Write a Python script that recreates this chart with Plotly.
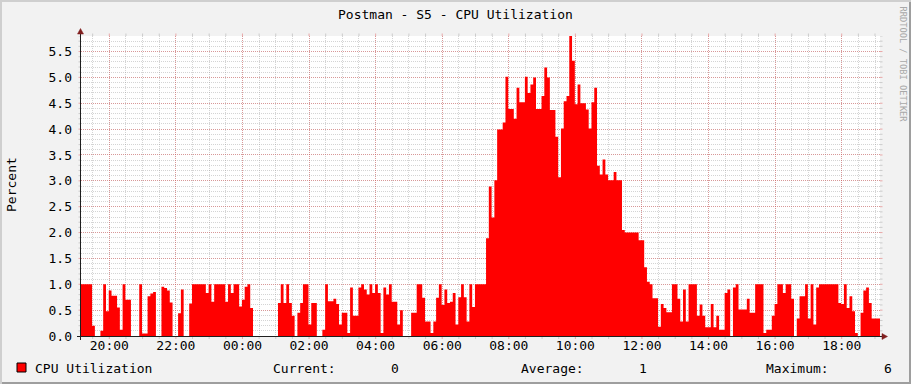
import pandas as pd
import plotly.graph_objects as go

# ---------------- data ----------------
TITLE = "Postman - S5 - CPU Utilization"
SERIES = "CPU Utilization"
Y_LABEL = "Percent"
WATERMARK = "RRDTOOL / TOBI OETIKER"
START = "2024-01-01 19:09"
STEP = "5min"

cpu = [
    1.0, 1.0, 1.0, 1.0, 0.2, 0, 0, 0.1, 1.0, 0.48,
    0.88, 0.78, 0.78, 0.55, 0.12, 1.0, 0.7, 0.7, 0, 0,
    0, 1.0, 0.05, 0.05, 0.77, 0.82, 0.85, 0, 0, 0.95,
    0.93, 0.88, 0.65, 0, 0, 0.44, 0.9, 0, 0, 0.63,
    1.0, 1.0, 1.0, 1.0, 1.0, 0.83, 1.0, 0.66, 1.0, 1.0,
    1.0, 1.0, 0.66, 1.0, 0.83, 1.0, 1.0, 0.57, 0.7, 0.95,
    1.0, 0.54, 0, 0, 0, 0, 0, 0, 0, 0,
    0, 0.64, 1.0, 0.64, 1.0, 0.64, 0.39, 0, 0.45, 0.64,
    1.0, 1.0, 0.22, 0.64, 0.64, 0, 0, 0.12, 1.0, 0.67,
    0.67, 0.72, 0.62, 0.22, 0.45, 0.45, 0.06, 0.94, 0.39, 0.39,
    0.94, 1.0, 0.9, 0.8, 1.0, 0.83, 1.0, 0.83, 0.06, 0.94,
    0.8, 1.0, 0.66, 0.66, 0.22, 0.5, 0, 0, 0, 0.45,
    0.45, 1.0, 1.0, 0.74, 0.28, 0.28, 0.06, 0.28, 0.74, 1.0,
    0.6, 0.9, 0.64, 0.66, 0.83, 0.22, 0.75, 1.0, 0.75, 0.28,
    1.0, 0.56, 1.0, 1.0, 1.0, 1.0, 1.89, 2.89, 2.29, 3.01,
    3.99, 3.99, 4.13, 5.01, 4.39, 4.39, 4.2, 4.8, 4.52, 4.52,
    5.01, 4.7, 4.86, 5.0, 4.39, 4.39, 4.64, 5.19, 5.0, 4.37,
    4.37, 3.85, 3.07, 4.01, 4.54, 4.64, 5.8, 5.32, 4.48, 4.86,
    4.5, 4.5, 4.38, 4.01, 4.52, 4.8, 3.29, 3.12, 3.41, 3.12,
    3.01, 3.01, 3.17, 3.01, 3.01, 2.05, 2.0, 2.0, 2.0, 2.0,
    2.0, 1.85, 1.85, 1.33, 1.05, 1.0, 0.73, 0.73, 0.18, 0.62,
    0.54, 0.46, 0.46, 1.0, 1.0, 0.72, 0.28, 0.9, 0.28, 1.0,
    1.0, 1.0, 0.39, 0.61, 0.39, 0.17, 0.17, 0.62, 0.17, 0.39,
    0.12, 0.12, 0.83, 0.9, 0, 0.94, 1.0, 0.51, 0.51, 0.51,
    0.72, 0.45, 0.45, 1.0, 1.0, 1.0, 0.06, 0.12, 0.12, 0.39,
    0.62, 1.0, 1.0, 0.83, 1.0, 1.0, 0.72, 0, 0.34, 0.77,
    0.77, 1.0, 0.34, 1.0, 0.22, 0.94, 1.0, 1.0, 1.0, 1.0,
    1.0, 1.0, 1.0, 0.64, 0.62, 1.0, 0.54, 0.77, 0.48, 0.06,
    0, 0.45, 0.88, 0.94, 0.64, 0.34, 0.34, 0.34,
]

x_tick_labels = ["20:00", "22:00", "00:00", "02:00", "04:00", "06:00",
                 "08:00", "10:00", "12:00", "14:00", "16:00", "18:00"]
FIRST_TICK = "2024-01-01 20:00"
y_tick_values = [0.0, 0.5, 1.0, 1.5, 2.0, 2.5, 3.0, 3.5, 4.0, 4.5, 5.0, 5.5]
Y_MAX = 5.8

stat_labels = ["Current:", "Average:", "Maximum:"]
stat_values = ["0", "1", "6"]

# ---------------- styling ----------------
FONT = "DejaVu Sans Mono"
BACK = "#F2F2F2"
SHADE_A = "#CFCFCF"
SHADE_B = "#9E9E9E"
GRID = "rgba(143,143,143,0.38)"
MGRID = "rgba(222,79,79,0.45)"
AXIS = "#1F1F1F"
ARROW = "#801F1F"
AREA = "#FF0000"

W_IMG, H_IMG = 911, 384
L, R, T, B = 81, 880, 36, 336
PW, PH = R - L, B - T


def px(x):
    return (x - L) / PW


def py(y):
    return (B - y) / PH


times = pd.date_range(START, periods=len(cpu) + 1, freq=STEP)
vals = cpu + [cpu[-1]]
t_end = times[-1]

tickvals = pd.date_range(FIRST_TICK, periods=len(x_tick_labels), freq="2h")

fig = go.Figure()
fig.add_trace(go.Scatter(
    x=times, y=vals, mode="lines",
    line=dict(shape="hv", width=0, color=AREA),
    fill="tozeroy", fillcolor=AREA,
    hoverinfo="skip", showlegend=False,
))

shapes = []
# frame shading
shapes.append(dict(type="rect", xref="paper", yref="paper", x0=px(0), x1=px(W_IMG), y0=py(0), y1=py(2),
                   fillcolor=SHADE_A, line=dict(width=0)))
shapes.append(dict(type="rect", xref="paper", yref="paper", x0=px(0), x1=px(2), y0=py(0), y1=py(H_IMG),
                   fillcolor=SHADE_A, line=dict(width=0)))
shapes.append(dict(type="rect", xref="paper", yref="paper", x0=px(2), x1=px(W_IMG), y0=py(H_IMG - 2), y1=py(H_IMG),
                   fillcolor=SHADE_B, line=dict(width=0)))
shapes.append(dict(type="rect", xref="paper", yref="paper", x0=px(W_IMG - 2), x1=px(W_IMG), y0=py(2), y1=py(H_IMG),
                   fillcolor=SHADE_B, line=dict(width=0)))

# small grid end marks (y)
n_minor_y = int(round(Y_MAX / 0.1))
for k in range(1, n_minor_y + 1):
    v = round(k * 0.1, 2)
    col = MGRID if abs(v / 0.5 - round(v / 0.5)) < 1e-6 else GRID
    shapes.append(dict(type="line", xref="paper", yref="y", x0=px(78.5), x1=px(81), y0=v, y1=v,
                       line=dict(color=col, width=1)))
    shapes.append(dict(type="line", xref="paper", yref="y", x0=px(880), x1=px(882.5), y0=v, y1=v,
                       line=dict(color=col, width=1)))
# small grid end marks (x)
minor_x = pd.date_range("2024-01-01 19:30", t_end, freq="30min")
for tm in minor_x:
    col = MGRID if (tm.hour % 2 == 0 and tm.minute == 0) else GRID
    shapes.append(dict(type="line", xref="x", yref="paper", x0=tm, x1=tm, y0=py(33.5), y1=py(36),
                       line=dict(color=col, width=1)))
    shapes.append(dict(type="line", xref="x", yref="paper", x0=tm, x1=tm, y0=py(337), y1=py(339),
                       line=dict(color=col, width=1)))

# axes lines
shapes.append(dict(type="line", xref="paper", yref="paper", x0=px(77), x1=px(884), y0=py(336.5), y1=py(336.5),
                   line=dict(color=AXIS, width=1)))
shapes.append(dict(type="line", xref="paper", yref="paper", x0=px(80.5), x1=px(80.5), y0=py(340), y1=py(32),
                   line=dict(color=AXIS, width=1)))
# arrows
shapes.append(dict(type="path", xref="paper", yref="paper",
                   path=f"M {px(882)} {py(333.5)} L {px(882)} {py(339.5)} L {px(887.5)} {py(336.5)} Z",
                   fillcolor=ARROW, line=dict(color=ARROW, width=0.5)))
shapes.append(dict(type="path", xref="paper", yref="paper",
                   path=f"M {px(77.5)} {py(34)} L {px(83.5)} {py(34)} L {px(80.5)} {py(28.5)} Z",
                   fillcolor=ARROW, line=dict(color=ARROW, width=0.5)))
# legend swatch
shapes.append(dict(type="rect", xref="paper", yref="paper", x0=px(17), x1=px(26), y0=py(372), y1=py(363),
                   fillcolor=AREA, line=dict(color="#000000", width=1)))

ann = []
ann.append(dict(text=TITLE, x=px(455.5), y=py(14), xref="paper", yref="paper", showarrow=False,
                xanchor="center", yanchor="middle", font=dict(family=FONT, size=13, color="#000")))
ann.append(dict(text=Y_LABEL, x=px(11), y=py(185), xref="paper", yref="paper", showarrow=False, textangle=-90,
                xanchor="center", yanchor="middle", font=dict(family=FONT, size=13, color="#000")))
ann.append(dict(text=WATERMARK, x=px(902.5), y=py(4), xref="paper", yref="paper", showarrow=False, textangle=90,
                xanchor="center", yanchor="top", font=dict(family=FONT, size=8.7, color="#A8A8A8")))
ann.append(dict(text=SERIES, x=px(33), y=py(368), xref="paper", yref="paper", showarrow=False,
                xanchor="left", yanchor="middle", font=dict(family=FONT, size=13, color="#000")))
stat_label_x = [271, 519, 764]
stat_value_x = [401, 649, 894]
for lab, val, lx, vx in zip(stat_labels, stat_values, stat_label_x, stat_value_x):
    ann.append(dict(text=lab, x=px(lx), y=py(368), xref="paper", yref="paper", showarrow=False,
                    xanchor="left", yanchor="middle", font=dict(family=FONT, size=13, color="#000")))
    ann.append(dict(text=val, x=px(vx), y=py(368), xref="paper", yref="paper", showarrow=False,
                    xanchor="right", yanchor="middle", font=dict(family=FONT, size=13, color="#000")))

fig.update_layout(
    width=W_IMG, height=H_IMG,
    margin=dict(l=L, r=W_IMG - R, t=T, b=H_IMG - B, pad=0),
    paper_bgcolor=BACK, plot_bgcolor="#FFFFFF",
    font=dict(family=FONT, size=13, color="#000"),
    showlegend=False,
    shapes=shapes, annotations=ann,
    xaxis=dict(
        type="date", range=[times[0], t_end],
        tickmode="array", tickvals=tickvals, ticktext=x_tick_labels,
        showgrid=True, gridcolor=MGRID, gridwidth=1, griddash="1px,1px",
        minor=dict(tickmode="linear", tick0="2024-01-01 00:00", dtick=1800000,
                   showgrid=True, gridcolor=GRID, gridwidth=1, griddash="1px,1px", ticks=""),
        ticks="", showline=False, zeroline=False,
        tickfont=dict(family=FONT, size=13, color="#000"),
        ticklabelstandoff=0, fixedrange=True,
    ),
    yaxis=dict(
        range=[0, Y_MAX],
        tickmode="array", tickvals=y_tick_values, tickformat=".1f",
        showgrid=True, gridcolor=MGRID, gridwidth=1, griddash="1px,1px",
        minor=dict(tickmode="linear", tick0=0, dtick=0.1,
                   showgrid=True, gridcolor=GRID, gridwidth=1, griddash="1px,1px", ticks=""),
        ticks="", showline=False, zeroline=False,
        tickfont=dict(family=FONT, size=13, color="#000"),
        ticklabelstandoff=8, fixedrange=True,
    ),
)

fig.write_html("out.html")
